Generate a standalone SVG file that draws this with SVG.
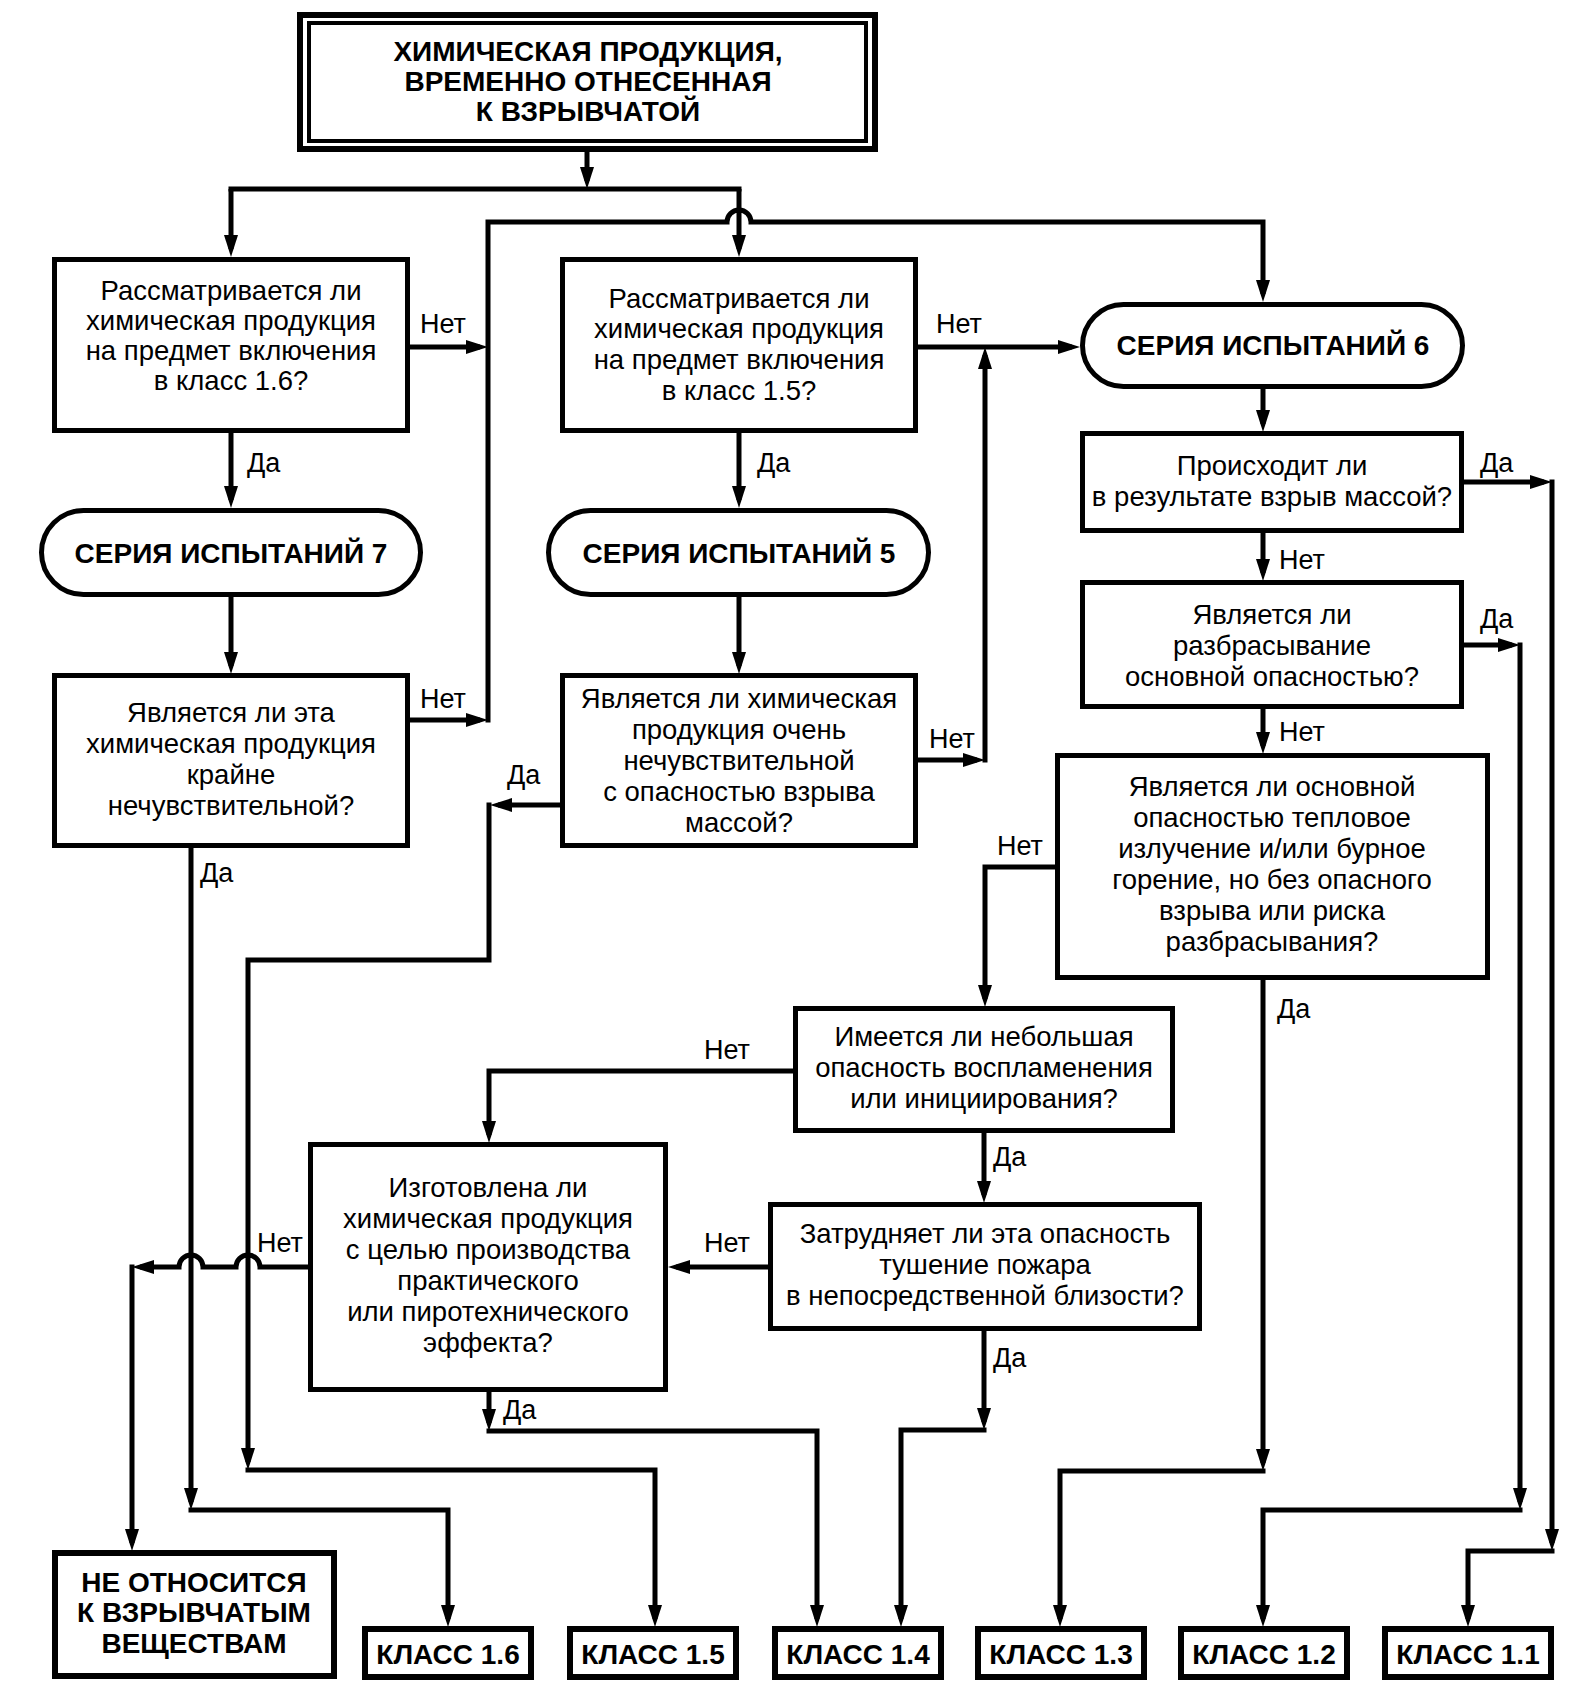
<svg xmlns="http://www.w3.org/2000/svg" width="1595" height="1703" viewBox="0 0 1595 1703">
<style>
.bx{fill:#fff;stroke:#000;stroke-width:5}
.cb{fill:#fff;stroke:#000;stroke-width:6}
.ln{fill:none;stroke:#000;stroke-width:5;stroke-linejoin:miter;stroke-linecap:butt}
.ar{marker-end:url(#ah)}
text{font-family:"Liberation Sans",Arial,sans-serif;fill:#000}
.t{font-size:27.5px;text-anchor:middle}
.b{font-size:28px;font-weight:bold;text-anchor:middle}
.l{font-size:27px}
</style>
<defs>
<marker id="ah" markerUnits="userSpaceOnUse" viewBox="0 0 22 14" markerWidth="22" markerHeight="14" refX="14" refY="7" orient="auto"><path d="M0,0 L22,7 L0,14 z" fill="#000"/></marker>
</defs>
<rect width="1595" height="1703" fill="#fff"/>
<g id="connectors">
<path class="ln ar" d="M587,152 V181"/>
<path class="ln" d="M228.5,189 H741.5"/>
<path class="ln ar" d="M231,189 V249"/>
<path class="ln ar" d="M739,189 V249"/>
<path class="ln ar" d="M488,722.5 V222 H727 A12,12 0 0 1 751,222 H1263 V294"/>
<path class="ln ar" d="M410,347 H480"/>
<path class="ln ar" d="M410,720 H480"/>
<path class="ln ar" d="M231,432 V500"/>
<path class="ln ar" d="M231,597 V666"/>
<path class="ln ar" d="M191,848 V1502"/>
<path class="ln ar" d="M188.5,1510 H448 V1619"/>
<path class="ln ar" d="M739,432 V500"/>
<path class="ln ar" d="M739,597 V666"/>
<path class="ln ar" d="M560,805 H498"/>
<path class="ln ar" d="M489,802.5 V960 H248 V1462"/>
<path class="ln ar" d="M245.5,1470 H655 V1619"/>
<path class="ln ar" d="M918,347 H1072"/>
<path class="ln ar" d="M918,760 H977"/>
<path class="ln ar" d="M985,762.5 V355"/>
<path class="ln ar" d="M1263,389 V424"/>
<path class="ln ar" d="M1464,482 H1544"/>
<path class="ln ar" d="M1552,479.5 V1543"/>
<path class="ln ar" d="M1554.5,1551 H1468 V1619"/>
<path class="ln ar" d="M1263,533 V573"/>
<path class="ln ar" d="M1464,645 H1512"/>
<path class="ln ar" d="M1520,642.5 V1502"/>
<path class="ln ar" d="M1522.5,1510 H1263 V1619"/>
<path class="ln ar" d="M1263,709 V746"/>
<path class="ln ar" d="M1055,867 H985 V999"/>
<path class="ln ar" d="M1263,980 V1463"/>
<path class="ln ar" d="M1265.5,1471 H1060 V1619"/>
<path class="ln ar" d="M794,1071 H489 V1135"/>
<path class="ln ar" d="M984,1133 V1195"/>
<path class="ln ar" d="M768,1267 H676"/>
<path class="ln ar" d="M984,1331 V1422"/>
<path class="ln ar" d="M986.5,1430 H901 V1619"/>
<path class="ln ar" d="M308,1267 H260 A12,12 0 0 0 236,1267 H203 A12,12 0 0 0 179,1267 H140"/>
<path class="ln ar" d="M132,1264.5 V1543"/>
<path class="ln ar" d="M489,1392 V1423"/>
<path class="ln ar" d="M486.5,1431 H817 V1619"/>
</g>
<g id="labels">
<text class="l" x="420" y="333">Нет</text>
<text class="l" x="247" y="472">Да</text>
<text class="l" x="936" y="333">Нет</text>
<text class="l" x="757" y="472">Да</text>
<text class="l" x="420" y="708">Нет</text>
<text class="l" x="200" y="882">Да</text>
<text class="l" x="507" y="784">Да</text>
<text class="l" x="929" y="748">Нет</text>
<text class="l" x="1480" y="472">Да</text>
<text class="l" x="1279" y="569">Нет</text>
<text class="l" x="1480" y="628">Да</text>
<text class="l" x="1279" y="741">Нет</text>
<text class="l" x="997" y="855">Нет</text>
<text class="l" x="1277" y="1018">Да</text>
<text class="l" x="704" y="1059">Нет</text>
<text class="l" x="993" y="1166">Да</text>
<text class="l" x="704" y="1252">Нет</text>
<text class="l" x="993" y="1367">Да</text>
<text class="l" x="257" y="1252">Нет</text>
<text class="l" x="503" y="1419">Да</text>
</g>
<g id="start">
<rect x="300" y="15" width="575" height="134" fill="#fff" stroke="#000" stroke-width="6"/>
<rect x="309" y="23" width="557" height="118" fill="none" stroke="#000" stroke-width="4"/>
<text class="b"><tspan x="588" y="61">ХИМИЧЕСКАЯ ПРОДУКЦИЯ,</tspan><tspan x="588" y="91">ВРЕМЕННО ОТНЕСЕННАЯ</tspan><tspan x="588" y="121">К ВЗРЫВЧАТОЙ</tspan></text>
</g>
<g id="q16">
<rect class="bx" x="54.5" y="259.5" width="353" height="171"/>
<text class="t"><tspan x="231" y="300">Рассматривается ли</tspan><tspan x="231" y="330">химическая продукция</tspan><tspan x="231" y="360">на предмет включения</tspan><tspan x="231" y="390">в класс 1.6?</tspan></text>
</g>
<g id="q15">
<rect class="bx" x="562.5" y="259.5" width="353" height="171"/>
<text class="t"><tspan x="739" y="308">Рассматривается ли</tspan><tspan x="739" y="338">химическая продукция</tspan><tspan x="739" y="369">на предмет включения</tspan><tspan x="739" y="400">в класс 1.5?</tspan></text>
</g>
<g id="s7">
<rect class="bx" x="41.5" y="510.5" width="379" height="84" rx="42"/>
<text class="b" x="231" y="563">СЕРИЯ ИСПЫТАНИЙ 7</text>
</g>
<g id="s5">
<rect class="bx" x="548.5" y="510.5" width="380" height="84" rx="42"/>
<text class="b" x="739" y="563">СЕРИЯ ИСПЫТАНИЙ 5</text>
</g>
<g id="s6">
<rect class="bx" x="1082.5" y="304.5" width="380" height="82" rx="41"/>
<text class="b" x="1273" y="355">СЕРИЯ ИСПЫТАНИЙ 6</text>
</g>
<g id="q7">
<rect class="bx" x="54.5" y="675.5" width="353" height="170"/>
<text class="t"><tspan x="231" y="722">Является ли эта</tspan><tspan x="231" y="753">химическая продукция</tspan><tspan x="231" y="784">крайне</tspan><tspan x="231" y="815">нечувствительной?</tspan></text>
</g>
<g id="q5">
<rect class="bx" x="562.5" y="675.5" width="353" height="170"/>
<text class="t"><tspan x="739" y="708">Является ли химическая</tspan><tspan x="739" y="739">продукция очень</tspan><tspan x="739" y="770">нечувствительной</tspan><tspan x="739" y="801">с опасностью взрыва</tspan><tspan x="739" y="832">массой?</tspan></text>
</g>
<g id="q61">
<rect class="bx" x="1082.5" y="433.5" width="379" height="97"/>
<text class="t"><tspan x="1272" y="475">Происходит ли</tspan><tspan x="1272" y="506">в результате взрыв массой?</tspan></text>
</g>
<g id="q62">
<rect class="bx" x="1082.5" y="582.5" width="379" height="124"/>
<text class="t"><tspan x="1272" y="624">Является ли</tspan><tspan x="1272" y="655">разбрасывание</tspan><tspan x="1272" y="686">основной опасностью?</tspan></text>
</g>
<g id="q63">
<rect class="bx" x="1057.5" y="755.5" width="430" height="222"/>
<text class="t"><tspan x="1272" y="796">Является ли основной</tspan><tspan x="1272" y="827">опасностью тепловое</tspan><tspan x="1272" y="858">излучение и/или бурное</tspan><tspan x="1272" y="889">горение, но без опасного</tspan><tspan x="1272" y="920">взрыва или риска</tspan><tspan x="1272" y="951">разбрасывания?</tspan></text>
</g>
<g id="q64">
<rect class="bx" x="795.5" y="1008.5" width="377" height="122"/>
<text class="t"><tspan x="984" y="1046">Имеется ли небольшая</tspan><tspan x="984" y="1077">опасность воспламенения</tspan><tspan x="984" y="1108">или инициирования?</tspan></text>
</g>
<g id="q65">
<rect class="bx" x="770.5" y="1204.5" width="429" height="124"/>
<text class="t"><tspan x="985" y="1243">Затрудняет ли эта опасность</tspan><tspan x="985" y="1274">тушение пожара</tspan><tspan x="985" y="1305">в непосредственной близости?</tspan></text>
</g>
<g id="q66">
<rect class="bx" x="310.5" y="1144.5" width="355" height="245"/>
<text class="t"><tspan x="488" y="1197">Изготовлена ли</tspan><tspan x="488" y="1228">химическая продукция</tspan><tspan x="488" y="1259">с целью производства</tspan><tspan x="488" y="1290">практического</tspan><tspan x="488" y="1321">или пиротехнического</tspan><tspan x="488" y="1352">эффекта?</tspan></text>
</g>
<g id="notexp">
<rect class="cb" x="55" y="1553" width="279" height="123"/>
<text class="b"><tspan x="194" y="1592">НЕ ОТНОСИТСЯ</tspan><tspan x="194" y="1622">К ВЗРЫВЧАТЫМ</tspan><tspan x="194" y="1653">ВЕЩЕСТВАМ</tspan></text>
</g>
<g id="c16"><rect class="cb" x="365" y="1629" width="166" height="48"/><text class="b" x="448" y="1664">КЛАСС 1.6</text></g>
<g id="c15"><rect class="cb" x="570" y="1629" width="166" height="48"/><text class="b" x="653" y="1664">КЛАСС 1.5</text></g>
<g id="c14"><rect class="cb" x="775" y="1629" width="166" height="48"/><text class="b" x="858" y="1664">КЛАСС 1.4</text></g>
<g id="c13"><rect class="cb" x="978" y="1629" width="166" height="48"/><text class="b" x="1061" y="1664">КЛАСС 1.3</text></g>
<g id="c12"><rect class="cb" x="1181" y="1629" width="166" height="48"/><text class="b" x="1264" y="1664">КЛАСС 1.2</text></g>
<g id="c11"><rect class="cb" x="1385" y="1629" width="166" height="48"/><text class="b" x="1468" y="1664">КЛАСС 1.1</text></g>
</svg>
